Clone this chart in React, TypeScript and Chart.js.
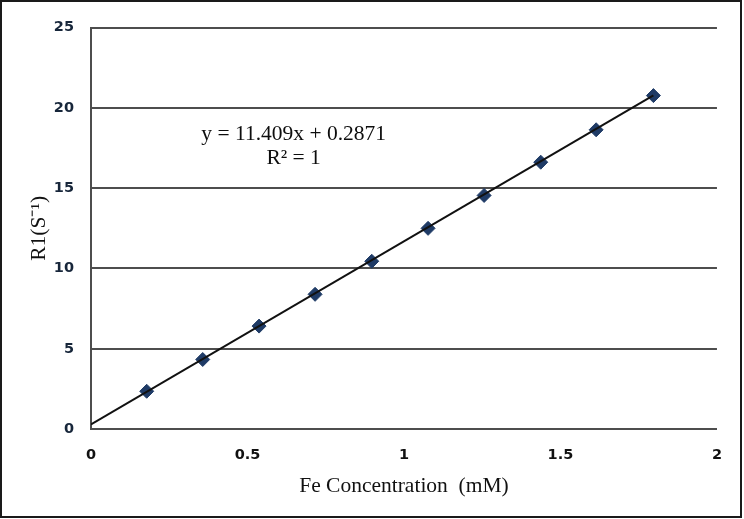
import React, { useEffect, useRef } from "react";
import { Chart, registerables } from "chart.js";

Chart.register(...registerables);

const concentrationMM = [0.178, 0.357, 0.537, 0.716, 0.897, 1.077, 1.256, 1.437, 1.614, 1.797];
const r1Values = [2.35, 4.33, 6.41, 8.39, 10.45, 12.5, 14.55, 16.62, 18.64, 20.77];
const fitSlope = 11.409;
const fitIntercept = 0.2871;
const trendX = [0, 1.797];
const xTicks = [0, 0.5, 1, 1.5, 2];
const yTicks = [0, 5, 10, 15, 20, 25];
const equationLines = ["y = 11.409x + 0.2871", "R² = 1"];
const xTitle = "Fe Concentration  (mM)";
const yTitle = "R1(S⁻¹)";

const GRID = "#4d4d4d";
const MARK = "#1f3b66";

const equationPlugin = {
  id: "equationLabel",
  afterDatasetsDraw(chart: any) {
    const { ctx, scales } = chart;
    const x = scales.x.getPixelForValue(0.6475);
    const y1 = scales.y.getPixelForValue(18.38);
    const y2 = scales.y.getPixelForValue(16.83);
    ctx.save();
    ctx.font = '21.5px "Liberation Serif", "DejaVu Serif", serif';
    ctx.fillStyle = "#0d0d0d";
    ctx.textAlign = "center";
    ctx.textBaseline = "middle";
    ctx.fillText(equationLines[0], x, y1);
    ctx.fillText(equationLines[1], x, y2);
    ctx.restore();
  },
};

export default function App() {
  const ref = useRef<HTMLCanvasElement | null>(null);
  useEffect(() => {
    document.body.style.margin = "0";
    if (!ref.current) return;
    const trendY = trendX.map((v) => fitSlope * v + fitIntercept);
    const chart = new Chart(ref.current, {
      type: "scatter",
      data: {
        datasets: [
          {
            type: "line",
            label: "fit",
            data: trendX.map((v, i) => ({ x: v, y: trendY[i] })),
            borderColor: "#111111",
            borderWidth: 2,
            pointRadius: 0,
            fill: false,
          },
          {
            label: "R1",
            data: concentrationMM.map((v, i) => ({ x: v, y: r1Values[i] })),
            pointStyle: "rectRot",
            pointRadius: 7,
            pointBackgroundColor: MARK,
            pointBorderColor: MARK,
            pointBorderWidth: 1,
          },
        ] as any,
      },
      options: {
        animation: false,
        responsive: false,
        maintainAspectRatio: false,
        layout: { padding: { left: 0, right: 22, top: 23, bottom: 0 } },
        plugins: { legend: { display: false }, tooltip: { enabled: false } },
        scales: {
          x: {
            type: "linear",
            min: 0,
            max: 2,
            afterBuildTicks: (s: any) => {
              s.ticks = xTicks.map((v) => ({ value: v }));
            },
            afterFit: (s: any) => {
              s.height = 87;
            },
            grid: { display: false, drawTicks: false },
            border: { display: true, color: GRID, width: 2 },
            ticks: {
              padding: 18,
              color: "#111111",
              font: { family: '"DejaVu Sans", sans-serif', size: 14.5, weight: "bold" },
              callback: (v: any) => String(v),
            },
            title: {
              display: true,
              text: xTitle,
              color: "#111111",
              font: { family: '"Liberation Serif", serif', size: 21.5 },
              padding: { top: 0, bottom: 17 },
            },
          },
          y: {
            type: "linear",
            min: 0,
            max: 25,
            afterBuildTicks: (s: any) => {
              s.ticks = yTicks.map((v) => ({ value: v }));
            },
            afterFit: (s: any) => {
              s.width = 89;
            },
            grid: { display: true, drawTicks: false, color: GRID, lineWidth: 2 },
            border: { display: true, color: GRID, width: 2 },
            ticks: {
              padding: 17,
              color: "#17263a",
              font: { family: '"DejaVu Sans", sans-serif', size: 14.5, weight: "bold" },
              callback: (v: any) => String(v),
            },
            title: {
              display: true,
              text: yTitle,
              color: "#111111",
              font: { family: '"Liberation Serif", serif', size: 21.5 },
              padding: { top: 24, bottom: 0 },
            },
          },
        },
      },
      plugins: [equationPlugin],
    });
    return () => chart.destroy();
  }, []);
  return (
    <div
      style={{
        position: "absolute",
        left: 0,
        top: 0,
        width: 742,
        height: 518,
        border: "2px solid #1a1a1a",
        boxSizing: "border-box",
        background: "#ffffff",
      }}
    >
      <canvas ref={ref} width={738} height={514} style={{ display: "block" }} />
    </div>
  );
}
